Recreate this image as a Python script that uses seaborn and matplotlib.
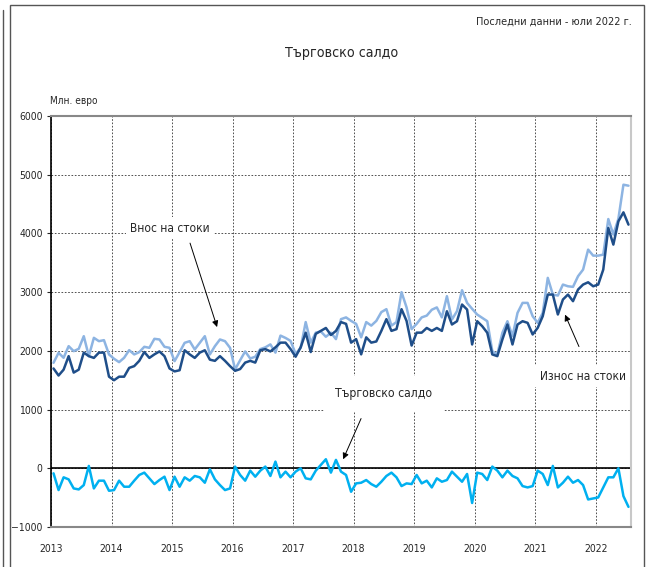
import numpy as np
import pandas as pd
import seaborn as sns
import matplotlib.pyplot as plt
from matplotlib.patches import Rectangle
from matplotlib.lines import Line2D
from matplotlib import font_manager

# monthly values, Jan 2013 - Jul 2022, million EUR
export_vals = [1700, 1580, 1680, 1910, 1630, 1680, 1970, 1910, 1880, 1970, 1970, 1560,
               1500, 1560, 1560, 1710, 1740, 1830, 1980, 1880, 1940, 1990, 1910, 1700,
               1650, 1670, 2010, 1940, 1880, 1970, 2010, 1850, 1830, 1910, 1830, 1740,
               1660, 1690, 1800, 1830, 1800, 2010, 2030, 1990, 2060, 2140, 2140, 2030,
               1900, 2060, 2310, 1980, 2290, 2340, 2390, 2270, 2340, 2490, 2460, 2140,
               2200, 1940, 2230, 2140, 2160, 2340, 2540, 2340, 2370, 2710, 2510, 2090,
               2310, 2310, 2390, 2340, 2390, 2340, 2675, 2449, 2505, 2789, 2704, 2109,
               2505, 2420, 2308, 1939, 1910, 2194, 2449, 2109, 2449, 2505, 2477, 2279,
               2392, 2590, 2959, 2959, 2619, 2874, 2959, 2846, 3044, 3129, 3168, 3100,
               3129, 3384, 4093, 3810, 4206, 4359, 4150]

import_vals = [1797, 1967, 1882, 2080, 1995, 2035, 2250, 1910, 2222, 2165, 2182, 1939,
               1865, 1808, 1882, 2012, 1939, 1978, 2069, 2052, 2205, 2194, 2069, 2052,
               1825, 1978, 2137, 2165, 2024, 2137, 2250, 1939, 2080, 2194, 2165, 2052,
               1684, 1840, 1990, 1870, 1900, 2030, 2060, 2110, 1970, 2260, 2220, 2170,
               1950, 2050, 2490, 2140, 2310, 2330, 2240, 2310, 2200, 2540, 2570, 2510,
               2460, 2230, 2490, 2430, 2510, 2660, 2710, 2430, 2490, 3000, 2740, 2370,
               2460, 2570, 2600, 2700, 2740, 2570, 2931, 2534, 2676, 3033, 2817, 2716,
               2619, 2562, 2505, 1995, 1939, 2308, 2505, 2250, 2647, 2817, 2817, 2590,
               2477, 2647, 3243, 2959, 2942, 3129, 3100, 3090, 3271, 3384, 3724, 3622,
               3622, 3639, 4245, 3980, 4250, 4830, 4813]

balance_vals = [-86, -371, -154, -189, -343, -360, -286, 40, -343, -211, -211, -383,
                -371, -211, -314, -314, -211, -114, -74, -171, -269, -200, -143, -371,
                -143, -314, -154, -211, -131, -154, -246, -17, -189, -286, -371, -343,
                29, -114, -211, -40, -143, -40, 29, -131, 114, -154, -57, -154,
                -57, 0, -171, -189, -40, 57, 154, -74, 143, -57, -114, -400,
                -257, -246, -200, -269, -314, -229, -131, -74, -154, -303, -257, -269,
                -114, -257, -211, -326, -171, -229, -200, -57, -143, -229, -97, -591,
                -74, -97, -200, 29, -40, -154, -40, -131, -171, -303, -326, -303,
                -40, -97, -286, 40, -326, -246, -143, -246, -200, -286, -531, -514,
                -497, -326, -154, -154, 0, -474, -657]

years = ['2013', '2014', '2015', '2016', '2017', '2018', '2019', '2020', '2021', '2022']

df = pd.DataFrame({
    'month': np.arange(len(export_vals)) + 0.5,
    'export': export_vals,
    'import': import_vals,
    'balance': balance_vals,
})

sns.set_style('white')
plt.rcParams['font.family'] = ['DejaVu Sans']
plt.rcParams['font.stretch'] = 'condensed'
condensed = any('Condensed' in f.fname for f in font_manager.fontManager.ttflist
                if f.name == 'DejaVu Sans')
fs = 1.0 if condensed else 0.88

fig = plt.figure(figsize=(6.46, 5.67), dpi=100)
ax = fig.add_axes([51 / 646, 1 - 527 / 567, 580 / 646, 411 / 567])

sns.lineplot(data=df, x='month', y='import', color='#8DB4E2', linewidth=1.8, ax=ax)
sns.lineplot(data=df, x='month', y='export', color='#1F4E89', linewidth=1.8, ax=ax)
sns.lineplot(data=df, x='month', y='balance', color='#00B0F0', linewidth=1.8, ax=ax)

ax.set_xlim(0, len(export_vals))
ax.set_ylim(-1000, 6000)
ax.set_xticks(np.arange(0, 12 * len(years), 12))
ax.set_xticklabels(years)
ax.set_yticks(np.arange(-1000, 6001, 1000))
ax.set_xlabel('')
ax.set_ylabel('')
ax.tick_params(axis='x', length=0, pad=12, labelsize=7.5 * fs)
ax.tick_params(axis='y', length=3, pad=3, labelsize=7.5 * fs, direction='out', left=True)

ax.grid(True, color='#333333', linestyle=(0, (2, 2)), linewidth=0.6)
ax.axhline(0, color='black', linewidth=1.2, zorder=1)
for side in ['top', 'bottom']:
    ax.spines[side].set_color('#888888')
    ax.spines[side].set_linestyle((0, (1, 1)))
    ax.spines[side].set_linewidth(1.5)
ax.spines['left'].set_color('black')
ax.spines['left'].set_linewidth(1.2)
ax.spines['right'].set_color('#c8c8c8')
ax.spines['right'].set_linewidth(1.5)

# labels and arrows
box = dict(facecolor='white', edgecolor='none', pad=3)
arrow = dict(arrowstyle='-|>', color='black', lw=0.7, mutation_scale=9)

ax.text(23.6, 4090, 'Внос на стоки', ha='center', va='center', fontsize=8.6 * fs, bbox=box)
ax.annotate('', xy=(33.1, 2360), xytext=(27.4, 3880), arrowprops=arrow)

ax.text(105.4, 1570, 'Износ на стоки', ha='center', va='center', fontsize=8.6 * fs, bbox=box)
ax.annotate('', xy=(101.7, 2660), xytext=(104.9, 2030), arrowprops=arrow)

ax.text(66, 1280, 'Търговско салдо', ha='center', va='center', fontsize=8.7 * fs,
        bbox=dict(facecolor='white', edgecolor='none', pad=8))
ax.annotate('', xy=(57.7, 110), xytext=(61.7, 890), arrowprops=arrow)

fig.text(632 / 646, 1 - 22 / 567, 'Последни данни - юли 2022 г.', ha='right', va='center',
         fontsize=7.8 * fs)
fig.text(342 / 646, 1 - 53 / 567, 'Търговско салдо', ha='center', va='center', fontsize=10.2 * fs)
fig.text(50 / 646, 1 - 101 / 567, 'Млн. евро', ha='left', va='center', fontsize=7.2 * fs)

# outer frame
fig.add_artist(Rectangle((10 / 646, -0.01), 634 / 646, 1 - 5 / 567 + 0.01,
                         transform=fig.transFigure, fill=False, edgecolor='#555555', linewidth=1))
fig.add_artist(Line2D([2.5 / 646, 2.5 / 646], [0, 1 - 10 / 567], transform=fig.transFigure,
                      color='#555555', linewidth=1))

fig.savefig('out.png', dpi=100)
